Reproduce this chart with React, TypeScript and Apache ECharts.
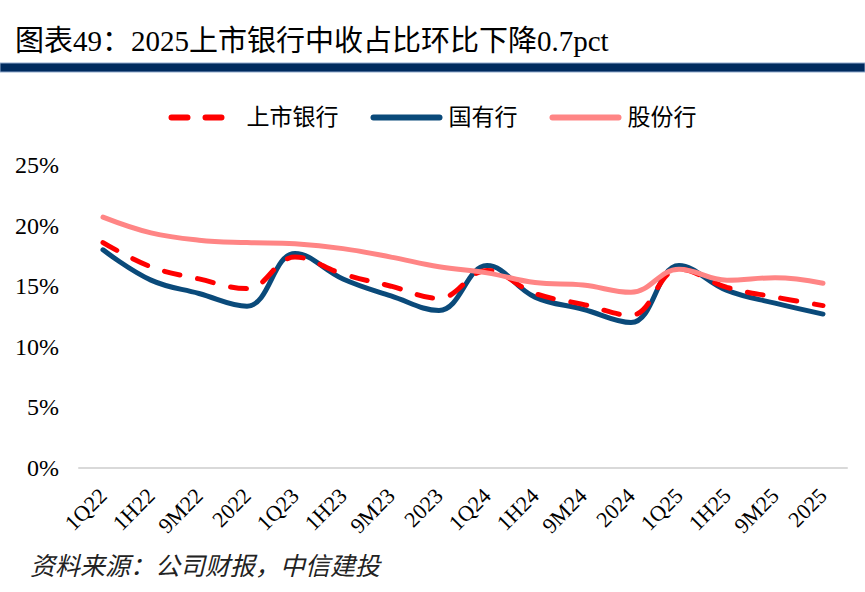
import React, { useEffect, useRef } from "react";
import * as echarts from "echarts";

const categories = ["1Q22", "1H22", "9M22", "2022", "1Q23", "1H23", "9M23", "2023", "1Q24", "1H24", "9M24", "2024", "1Q25", "1H25", "9M25", "2025"];
const listedBanks = [18.6, 16.6, 15.6, 14.8, 17.4, 16.0, 15.0, 14.0, 16.3, 14.4, 13.5, 12.6, 16.4, 14.9, 14.1, 13.4];
const stateBanks = [18.0, 15.5, 14.4, 13.35, 17.7, 15.6, 14.2, 13.0, 16.7, 14.1, 13.1, 12.0, 16.7, 14.65, 13.6, 12.7];
const jointStockBanks = [20.7, 19.4, 18.8, 18.6, 18.5, 18.1, 17.4, 16.6, 16.1, 15.3, 15.1, 14.5, 16.4, 15.5, 15.7, 15.25];
const yTicks = { min: 0, max: 25, interval: 5 };

const titleText = "图表49：2025上市银行中收占比环比下降0.7pct";
const sourceText = "资料来源：公司财报，中信建投";
const seriesNames = ["上市银行", "国有行", "股份行"];

const SERIF = '"Times New Roman", "Liberation Serif", "DejaVu Serif", "Noto Sans CJK SC", serif';

export default function App() {
  const ref = useRef<HTMLDivElement>(null);
  useEffect(() => {
    if (!ref.current) return;
    const chart = echarts.init(ref.current, null, { renderer: "svg" });
    chart.setOption({
      animation: false,
      backgroundColor: "#ffffff",
      textStyle: { fontFamily: SERIF },
      title: {
        text: titleText,
        left: 10,
        top: 21,
        textStyle: { fontFamily: SERIF, fontSize: 29, fontWeight: "normal", color: "#000" },
      },
      graphic: [
        {
          type: "rect",
          shape: { x: 0, y: 63, width: 865, height: 9 },
          style: { fill: "#002b5e", stroke: "#8fa9cc", lineWidth: 1 },
        },
        {
          type: "text",
          left: 30,
          top: 554,
          style: {
            text: sourceText,
            fontFamily: SERIF,
            fontSize: 25,
            fontStyle: "italic",
            fill: "#222",
          },
        },
      ],
      legend: {
        top: 101,
        left: "center",
        itemWidth: 66,
        itemHeight: 14,
        itemGap: 32,
        data: seriesNames,
        itemStyle: { opacity: 0 },
        lineStyle: { width: 6, cap: "round" },
        textStyle: { fontFamily: SERIF, fontSize: 23, color: "#000", padding: [0, 0, 0, 4] },
      },
      grid: { left: 79, right: 18, top: 165, bottom: 124, containLabel: false },
      xAxis: {
        type: "category",
        data: categories,
        boundaryGap: true,
        axisLine: { lineStyle: { color: "#d9d9d9", width: 2 } },
        axisTick: { inside: true, length: 6, lineStyle: { color: "#d9d9d9", width: 1.5 }, alignWithLabel: false },
        axisLabel: { rotate: 45, fontFamily: SERIF, fontSize: 22, color: "#000", margin: 24, interval: 0 },
      },
      yAxis: {
        type: "value",
        min: yTicks.min,
        max: yTicks.max,
        interval: yTicks.interval,
        axisLine: { show: false },
        axisTick: { show: false },
        splitLine: { show: false },
        axisLabel: { formatter: "{value}%", fontFamily: SERIF, fontSize: 24, color: "#000", margin: 20 },
      },
      series: [
        {
          name: seriesNames[0],
          type: "line",
          data: listedBanks,
          smooth: 0.4,
          symbol: "none",
          z: 3,
          lineStyle: { color: "#ff0000", width: 5, type: [16, 18], cap: "round" },
          itemStyle: { color: "#ff0000" },
        },
        {
          name: seriesNames[1],
          type: "line",
          data: stateBanks,
          smooth: 0.4,
          symbol: "none",
          z: 2,
          lineStyle: { color: "#0a4a7a", width: 5, cap: "round" },
          itemStyle: { color: "#0a4a7a" },
        },
        {
          name: seriesNames[2],
          type: "line",
          data: jointStockBanks,
          smooth: 0.4,
          symbol: "none",
          z: 4,
          lineStyle: { color: "#ff8585", width: 5, cap: "round" },
          itemStyle: { color: "#ff8585" },
        },
      ],
    });
    return () => chart.dispose();
  }, []);
  return (
    <div
      ref={ref}
      style={{ position: "absolute", left: 0, top: 0, width: 865, height: 592, background: "#fff" }}
    />
  );
}
